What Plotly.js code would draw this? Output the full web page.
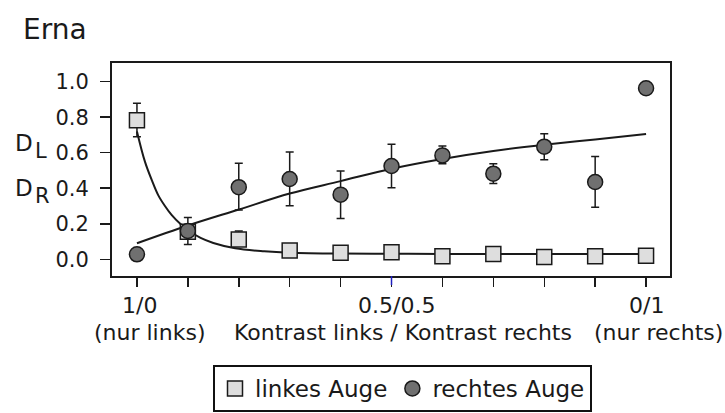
<!DOCTYPE html>
<html>
<head>
<meta charset="utf-8">
<script src="https://cdn.plot.ly/plotly-3.0.1.min.js"></script>
<style>html,body{margin:0;padding:0;background:#fff;}</style>
</head>
<body>
<div id="chart" style="width:725px;height:413px;"></div>
<script>
// positions along the contrast axis: 0 = 1/0 (nur links) ... 10 = 0/1 (nur rechts)
const steps = [0, 1, 2, 3, 4, 5, 6, 7, 8, 9, 10];

// linkes Auge (D_L)
const leftEye = [0.783, 0.155, 0.112, 0.049, 0.037, 0.039, 0.017, 0.030, 0.013, 0.017, 0.020];
const leftErrPlus = [0.095, 0, 0.048, 0, 0, 0, 0, 0, 0, 0, 0];
const leftErrMinus = [0.093, 0, 0.03, 0, 0, 0, 0, 0, 0, 0, 0];

// rechtes Auge (D_R)
const rightEye = [0.028, 0.160, 0.406, 0.452, 0.364, 0.525, 0.585, 0.482, 0.634, 0.435, 0.963];
const rightErrPlus = [0, 0.075, 0.134, 0.152, 0.133, 0.122, 0.053, 0.056, 0.073, 0.143, 0];
const rightErrMinus = [0, 0.076, 0.128, 0.150, 0.135, 0.122, 0.047, 0.056, 0.073, 0.142, 0];

// fitted curves
const fitLeftX = [0, 0.157, 0.3, 0.42, 0.55, 0.68, 0.85, 1.0, 1.25, 1.5, 1.93, 2.5, 3, 4, 5, 6, 7, 8, 9, 10];
const fitLeftY = [0.72, 0.55, 0.44, 0.36, 0.30, 0.25, 0.20, 0.165, 0.12, 0.092, 0.062, 0.045, 0.037, 0.032, 0.031, 0.030, 0.030, 0.030, 0.030, 0.030];
const fitRightX = [0, 1, 2, 3, 4, 5, 6, 7, 8, 9, 10];
const fitRightY = [0.09, 0.19, 0.28, 0.37, 0.44, 0.51, 0.565, 0.61, 0.645, 0.675, 0.705];

const yTicks = [0, 0.2, 0.4, 0.6, 0.8, 1.0];
const yTickText = ['0.0', '0.2', '0.4', '0.6', '0.8', '1.0'];
const xMainLabels = ['1/0', '0.5/0.5', '0/1'];
const xSubLabels = ['(nur links)', 'Kontrast links / Kontrast rechts', '(nur rechts)'];

const FONT = 'DejaVu Sans';
const INK = '#1a1a1a';

const traces = [
  {x: fitLeftX, y: fitLeftY, mode: 'lines', line: {color: INK, width: 2, shape: 'spline'}, showlegend: false, hoverinfo: 'skip'},
  {x: fitRightX, y: fitRightY, mode: 'lines', line: {color: INK, width: 2, shape: 'spline'}, showlegend: false, hoverinfo: 'skip'},
  {x: steps, y: leftEye, mode: 'markers', name: 'linkes Auge',
   marker: {symbol: 'square', size: 15, color: '#dedede', line: {color: INK, width: 1.5}},
   error_y: {type: 'data', symmetric: false, array: leftErrPlus, arrayminus: leftErrMinus, color: INK, thickness: 1.5, width: 4}},
  {x: steps, y: rightEye, mode: 'markers', name: 'rechtes Auge',
   marker: {symbol: 'circle', size: 15, color: '#707070', line: {color: INK, width: 1.5}},
   error_y: {type: 'data', symmetric: false, array: rightErrPlus, arrayminus: rightErrMinus, color: INK, thickness: 1.5, width: 4}}
];

function px2x(px) { return (px - 112) / 558; }
function px2y(py) { return (276 - py) / 213; }

const ann = [];
const mainX = [139, 396, 646];
const subX = [149, 403, 658];
for (let i = 0; i < 3; i++) {
  ann.push({text: xMainLabels[i], xref: 'paper', yref: 'paper', x: px2x(mainX[i]), y: px2y(305), xanchor: 'center', yanchor: 'middle', showarrow: false, font: {family: FONT, size: 22, color: INK}});
  ann.push({text: xSubLabels[i], xref: 'paper', yref: 'paper', x: px2x(subX[i]), y: px2y(332), xanchor: 'center', yanchor: 'middle', showarrow: false, font: {family: FONT, size: 22, color: INK}});
}
ann.push({text: 'D', xref: 'paper', yref: 'paper', x: px2x(13), y: px2y(143), xanchor: 'left', yanchor: 'middle', showarrow: false, font: {family: FONT, size: 23, color: INK}});
ann.push({text: 'L', xref: 'paper', yref: 'paper', x: px2x(33), y: px2y(151), xanchor: 'left', yanchor: 'middle', showarrow: false, font: {family: FONT, size: 21, color: INK}});
ann.push({text: 'D', xref: 'paper', yref: 'paper', x: px2x(13), y: px2y(188), xanchor: 'left', yanchor: 'middle', showarrow: false, font: {family: FONT, size: 23, color: INK}});
ann.push({text: 'R', xref: 'paper', yref: 'paper', x: px2x(33), y: px2y(196), xanchor: 'left', yanchor: 'middle', showarrow: false, font: {family: FONT, size: 21, color: INK}});

const layout = {
  width: 725, height: 413,
  margin: {l: 112, r: 55, t: 63, b: 137, autoexpand: false},
  paper_bgcolor: '#fff', plot_bgcolor: '#fff',
  font: {family: FONT, color: INK},
  title: {text: 'Erna', xref: 'container', yref: 'container', x: 23 / 725, xanchor: 'left', y: 1 - 29 / 413, yanchor: 'middle', font: {family: FONT, size: 28, color: INK}},
  xaxis: {range: [-0.49, 10.47], tickvals: steps, showticklabels: false, ticks: 'outside', ticklen: 9, tickwidth: 1.5, tickcolor: INK,
          showline: true, mirror: true, linecolor: INK, linewidth: 2, showgrid: false, zeroline: false, fixedrange: true},
  yaxis: {range: [-0.094, 1.105], tickvals: yTicks, ticktext: yTickText, ticks: 'outside', ticklen: 10, tickwidth: 1.5, tickcolor: INK,
          ticklabelstandoff: 7,
          tickfont: {family: FONT, size: 21, color: INK},
          showline: true, mirror: true, linecolor: INK, linewidth: 2, showgrid: false, zeroline: false, fixedrange: true},
  showlegend: true,
  legend: {orientation: 'h', x: px2x(213), y: px2y(365), xanchor: 'left', yanchor: 'top', xref: 'paper', yref: 'paper',
           bgcolor: '#fff', bordercolor: '#111', borderwidth: 2, font: {family: FONT, size: 23, color: INK}},
  shapes: [{type: 'line', xref: 'x', yref: 'paper', x0: 5, x1: 5, y0: 0, y1: -9 / 213, line: {color: '#2020c0', width: 1.5}}],
  annotations: ann
};

Plotly.newPlot('chart', traces, layout, {displayModeBar: false, staticPlot: true});
</script>
</body>
</html>
